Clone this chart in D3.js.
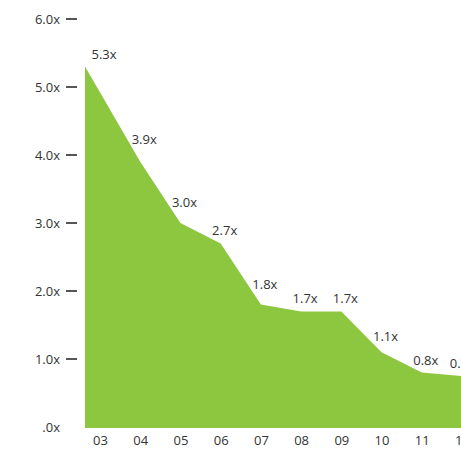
<!DOCTYPE html>
<html>
<head>
<meta charset="utf-8">
<script src="https://cdn.jsdelivr.net/npm/d3@7"></script>
<style>
  body { margin: 0; background: #fff; }
  svg { display: block; }
  text { font-family: "Open Sans", "Liberation Sans", sans-serif; fill: #333; }
</style>
</head>
<body>
<svg id="chart" width="461" height="449"></svg>
<script>
// data
const years = ["03", "04", "05", "06", "07", "08", "09", "10", "11", "12"]
const multiples = [5.3, 3.9, 3.0, 2.7, 1.8, 1.7, 1.7, 1.1, 0.8, 0.75]
const valueLabels = ["5.3x", "3.9x", "3.0x", "2.7x", "1.8x", "1.7x", "1.7x", "1.1x", "0.8x", "0.75x"]
const yTicks = [0, 1, 2, 3, 4, 5, 6]
const yTickLabels = [".0x", "1.0x", "2.0x", "3.0x", "4.0x", "5.0x", "6.0x"]

const svg = d3.select("#chart")
const plotLeft = 85
const plotBottom = 428
const fontSize = "13px"

let x = d3.scalePoint().domain(years).range([100, 462])
let y = d3.scaleLinear().domain([0, 6]).range([427, 19])

let data = years.map((d, i) => ({ year: d, value: multiples[i], label: valueLabels[i] }))

// top edge points of the area (first point sits on the left edge)
let pts = data.map((d, i) => [i === 0 ? plotLeft : x(d.year), y(d.value)])

// area
let area = d3.area()
  .x((d, i) => pts[i][0])
  .y0(plotBottom)
  .y1((d, i) => pts[i][1])

svg.append("path")
  .datum(data)
  .attr("d", area)
  .attr("fill", "#8dc63f")

// y axis: labels + short dashes
let yg = svg.append("g")
yg.selectAll("line")
  .data(yTicks.filter(d => d > 0))
  .enter()
  .append("line")
  .attr("x1", 66)
  .attr("x2", 77)
  .attr("y1", d => y(d))
  .attr("y2", d => y(d))
  .attr("stroke", "#555")
  .attr("stroke-width", 2)
yg.selectAll("text")
  .data(yTicks)
  .enter()
  .append("text")
  .attr("x", 60)
  .attr("y", d => y(d))
  .attr("dy", "0.35em")
  .attr("text-anchor", "end")
  .attr("font-size", fontSize)
  .text((d, i) => yTickLabels[i])

// x axis labels
let xAxis = d3.axisBottom(x).tickSize(0).tickPadding(8)
let xg = svg.append("g")
  .attr("transform", `translate(0, ${plotBottom})`)
  .call(xAxis)
xg.select(".domain").remove()
xg.selectAll("text")
  .attr("font-size", fontSize)
  .style("font-family", "'Open Sans', 'Liberation Sans', sans-serif")
  .attr("fill", "#333")

// y of the area's top edge at a given x
function edgeY(px) {
  if (px <= pts[0][0]) return pts[0][1]
  for (let i = 1; i < pts.length; i++) {
    if (px <= pts[i][0]) {
      let t = (px - pts[i - 1][0]) / (pts[i][0] - pts[i - 1][0])
      return pts[i - 1][1] + t * (pts[i][1] - pts[i - 1][1])
    }
  }
  return pts[pts.length - 1][1]
}

// value labels, a little right of the year, kept just above the edge
let labels = svg.append("g")
  .selectAll("text")
  .data(data)
  .enter()
  .append("text")
  .attr("x", d => x(d.year) + 4)
  .attr("text-anchor", "middle")
  .attr("font-size", fontSize)
  .text(d => d.label)
labels.attr("y", function(d) {
  let w = this.getComputedTextLength()
  let left = Math.max(x(d.year) + 4 - w / 2, plotLeft)
  return Math.min(edgeY(left) - 3, y(d.value) - 8)
})
</script>
</body>
</html>
